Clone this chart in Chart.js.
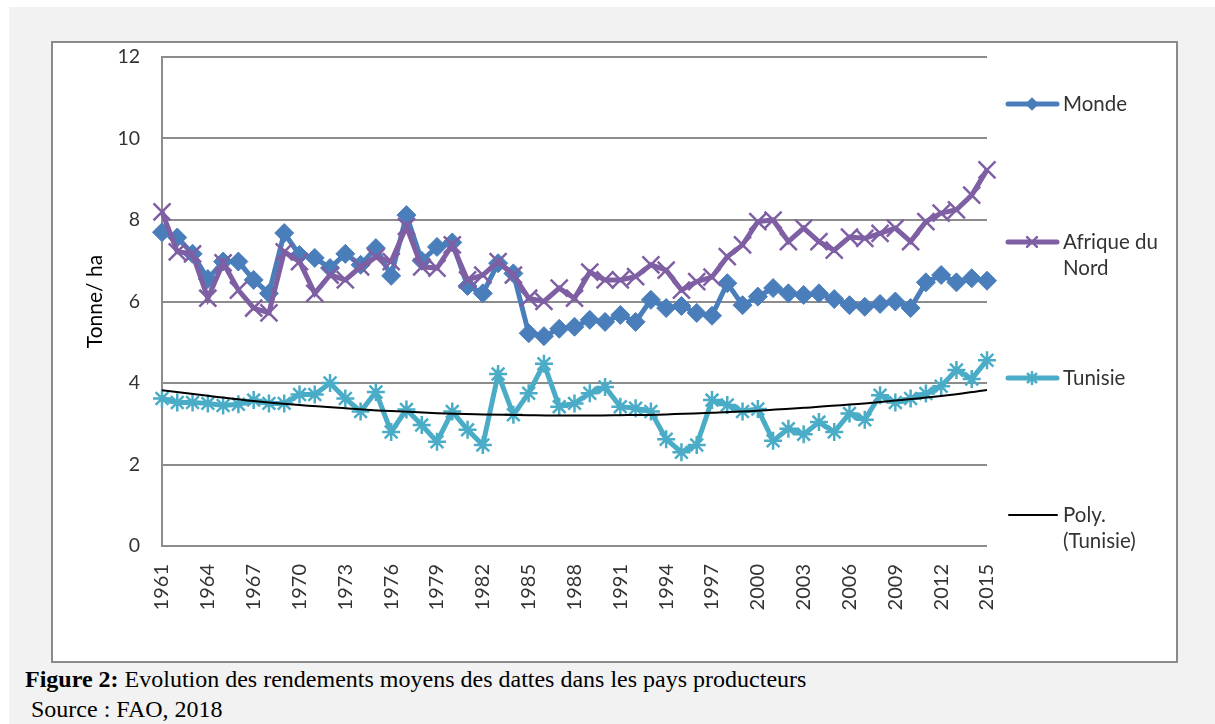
<!DOCTYPE html>
<html lang="fr">
<head>
<meta charset="utf-8">
<title>Rendements moyens des dattes</title>
<script src="https://cdn.jsdelivr.net/npm/chart.js@4/dist/chart.umd.min.js"></script>
<style>
  html, body {
    margin: 0;
    padding: 0;
    width: 1215px;
    height: 724px;
    background: #ffffff;
    overflow: hidden;
  }
  .panel {
    position: absolute;
    left: 9px;
    top: 7px;
    width: 1206px;
    height: 717px;
    background: #f2f2f2;
  }
  .frame {
    position: absolute;
    left: 51px;
    top: 41px;
    width: 1127px;
    height: 622px;
    background: #ffffff;
    box-sizing: border-box;
    border: 2px solid #8a8a8a;
  }
  #chart {
    position: absolute;
    left: 51px;
    top: 41px;
  }
  .caption {
    position: absolute;
    font-family: "Liberation Serif", "Times New Roman", serif;
    font-size: 24px;
    line-height: 28px;
    color: #000;
    white-space: nowrap;
  }
</style>
</head>
<body>
<div class="panel"></div>
<div class="frame"></div>
<canvas id="chart" width="1127" height="622"></canvas>
<div class="caption" style="left:25px; top:665px;"><b>Figure 2:</b> Evolution des rendements moyens des dattes dans les pays producteurs</div>
<div class="caption" style="left:31px; top:695px;">Source : FAO, 2018</div>

<script>
// Data (FAO, 2018)
const years = [];
for (let y = 1961; y <= 2015; y++) years.push(String(y));

const monde = [
  7.7, 7.57, 7.17, 6.55, 6.98, 6.98, 6.53, 6.2, 7.68, 7.14,
  7.07, 6.82, 7.17, 6.9, 7.31, 6.63, 8.12, 7.0, 7.34, 7.45,
  6.38, 6.2, 6.94, 6.69, 5.22, 5.15, 5.33, 5.38, 5.55, 5.5,
  5.67, 5.5, 6.04, 5.84, 5.89, 5.72, 5.65, 6.45, 5.91, 6.12,
  6.33, 6.2, 6.16, 6.2, 6.06, 5.91, 5.87, 5.94, 6.0, 5.84,
  6.47, 6.65, 6.47, 6.57, 6.51,
];

const afriqueNord = [
  8.2, 7.22, 7.17, 6.08, 6.95, 6.28, 5.84, 5.72, 7.22, 6.98,
  6.2, 6.65, 6.53, 6.85, 7.09, 6.98, 7.84, 6.85, 6.82, 7.39,
  6.53, 6.65, 6.98, 6.65, 6.08, 6.0, 6.33, 6.08, 6.72, 6.53,
  6.53, 6.61, 6.9, 6.77, 6.28, 6.49, 6.6, 7.1, 7.39, 7.96,
  8.0, 7.47, 7.8, 7.47, 7.26, 7.58, 7.55, 7.67, 7.8, 7.47,
  7.96, 8.17, 8.25, 8.61, 9.23,
];

const tunisie = [
  3.62, 3.52, 3.52, 3.5, 3.45, 3.48, 3.58, 3.5, 3.5, 3.72,
  3.72, 4.0, 3.62, 3.3, 3.78, 2.8, 3.35, 2.97, 2.56, 3.3,
  2.85, 2.48, 4.22, 3.22, 3.75, 4.47, 3.42, 3.5, 3.75, 3.9,
  3.42, 3.38, 3.3, 2.62, 2.3, 2.48, 3.58, 3.46, 3.3, 3.36,
  2.58, 2.88, 2.74, 3.04, 2.8, 3.25, 3.1, 3.7, 3.52, 3.62,
  3.74, 3.92, 4.32, 4.1, 4.56,
];

// trend line (Poly. Tunisie) read every 3 years, gaps spanned
const trendYears = ["1961", "1964", "1967", "1970", "1973", "1976", "1979", "1982", "1985", "1988",
  "1991", "1994", "1997", "2000", "2003", "2006", "2009", "2012", "2015"];
const trendValues = [3.82, 3.69, 3.56, 3.46, 3.38, 3.31, 3.26, 3.23, 3.21, 3.2,
  3.21, 3.23, 3.27, 3.32, 3.39, 3.47, 3.57, 3.68, 3.83];
const trend = years.map((y) => {
  const i = trendYears.indexOf(y);
  return i >= 0 ? trendValues[i] : null;
});

const yTicks = [0, 2, 4, 6, 8, 10, 12];
const labelStep = 3;

const FONT = "Lato, 'Open Sans', sans-serif";
const TEXT = "#333333";
const GRID = "#8c8c8c";

// Legend drawn on the right like the original
const legendItems = [
  { ds: 0, lines: ["Monde"], y: 63, r: 5 },
  { ds: 1, lines: ["Afrique du", "Nord"], y: 201, r: 7 },
  { ds: 2, lines: ["Tunisie"], y: 337, r: 6 },
  { ds: 3, lines: ["Poly.", "(Tunisie)"], y: 474, r: 0 },
];

const sideLegend = {
  id: "sideLegend",
  afterDraw(chart) {
    const ctx = chart.ctx;
    ctx.save();
    legendItems.forEach((item) => {
      const ds = chart.data.datasets[item.ds];
      ctx.strokeStyle = ds.borderColor;
      ctx.lineWidth = item.ds === 3 ? 2 : 5;
      ctx.lineCap = "round";
      ctx.beginPath();
      ctx.moveTo(item.ds === 3 ? 958 : 957, item.y);
      ctx.lineTo(1006, item.y);
      ctx.stroke();
      if (item.r > 0) {
        ctx.fillStyle = ds.pointBackgroundColor;
        ctx.strokeStyle = ds.pointBorderColor;
        ctx.lineWidth = 2.5;
        Chart.helpers.drawPoint(ctx, { pointStyle: ds.pointStyle, radius: item.r, rotation: 0, borderWidth: 2.5 }, 981, item.y);
      }
      ctx.fillStyle = TEXT;
      ctx.font = "20.5px " + FONT;
      ctx.textBaseline = "middle";
      item.lines.forEach((t, k) => ctx.fillText(t, 1012, item.y + k * 26));
    });
    ctx.restore();
  },
};

const ctx = document.getElementById("chart").getContext("2d");

new Chart(ctx, {
  type: "line",
  data: {
    labels: years,
    datasets: [
      {
        label: "Monde",
        data: monde,
        borderColor: "#4a7ebb",
        backgroundColor: "#4a7ebb",
        pointBackgroundColor: "#4a7ebb",
        pointBorderColor: "#4a7ebb",
        pointStyle: "rectRot",
        pointRadius: 9.5,
        pointBorderWidth: 1,
        borderWidth: 5,
        order: 3,
      },
      {
        label: "Afrique du Nord",
        data: afriqueNord,
        borderColor: "#7f5fa3",
        backgroundColor: "#7f5fa3",
        pointBackgroundColor: "#7f5fa3",
        pointBorderColor: "#7f5fa3",
        pointStyle: "crossRot",
        pointRadius: 12,
        pointBorderWidth: 2.5,
        borderWidth: 5,
        order: 2,
      },
      {
        label: "Tunisie",
        data: tunisie,
        borderColor: "#4aacc6",
        backgroundColor: "#4aacc6",
        pointBackgroundColor: "#4aacc6",
        pointBorderColor: "#4aacc6",
        pointStyle: "star",
        pointRadius: 9,
        pointBorderWidth: 2.5,
        borderWidth: 5,
        order: 1,
      },
      {
        label: "Poly. (Tunisie)",
        data: trend,
        borderColor: "#000000",
        backgroundColor: "#000000",
        pointRadius: 0,
        borderWidth: 2,
        spanGaps: true,
        tension: 0.4,
        order: 0,
      },
    ],
  },
  options: {
    responsive: false,
    animation: false,
    devicePixelRatio: 1,
    layout: { padding: { top: 16, right: 191, bottom: 0, left: 0 } },
    plugins: {
      legend: { display: false },
      tooltip: { enabled: false },
    },
    scales: {
      x: {
        offset: false,
        grid: { display: false },
        border: { display: false },
        ticks: {
          autoSkip: false,
          minRotation: 90,
          maxRotation: 90,
          padding: 10,
          color: TEXT,
          font: { family: FONT, size: 20 },
          callback: (val, i) => (i % labelStep === 0 ? years[i] : ""),
        },
        afterFit(scale) {
          scale.height = 117;
          scale.paddingLeft = 0;
          scale.paddingRight = 0;
        },
      },
      y: {
        min: 0,
        max: 12,
        afterBuildTicks(scale) {
          scale.ticks = yTicks.map((v) => ({ value: v }));
        },
        grid: { color: GRID, lineWidth: 2, drawTicks: false },
        border: { color: GRID, width: 2 },
        ticks: {
          padding: 22,
          color: TEXT,
          font: { family: FONT, size: 19.5 },
        },
        title: {
          display: true,
          text: "Tonne/ ha",
          color: "#000000",
          font: { family: FONT, size: 21 },
          padding: { top: 32, bottom: 0 },
        },
        afterFit(scale) {
          scale.width = 111;
          scale.paddingTop = 0;
          scale.paddingBottom = 0;
        },
      },
    },
  },
  plugins: [sideLegend],
});
</script>
</body>
</html>
